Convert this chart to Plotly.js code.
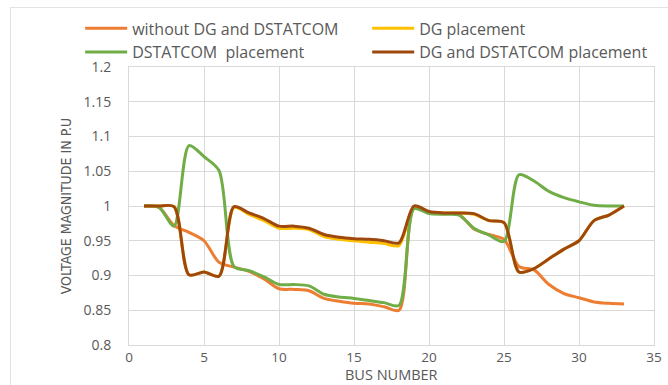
<!DOCTYPE html>
<html>
<head>
<meta charset="utf-8">
<script src="https://cdn.plot.ly/plotly-3.0.1.min.js"></script>
<style>
  html, body { margin: 0; padding: 0; background: #fff; }
  #chart { width: 668px; height: 385px; }
  #frame { position: absolute; left: 10px; top: 7px; width: 700px; height: 400px;
           border: 1px solid #e3e3e3; pointer-events: none; }
</style>
</head>
<body>
<div id="chart"></div>
<div id="frame"></div>
<script>
const busNumbers = [1,2,3,4,5,6,7,8,9,10,11,12,13,14,15,16,17,18,19,20,21,22,23,24,25,26,27,28,29,30,31,32,33];

const withoutDG = [1.000,0.998,0.972,0.962,0.950,0.919,0.912,0.906,0.895,0.881,0.880,0.878,0.867,0.863,0.860,0.859,0.855,0.850,
                   0.997,0.990,0.989,0.988,0.967,0.959,0.952,0.913,0.908,0.887,0.874,0.868,0.862,0.860,0.859];

const dgPlacement = [1.000,1.000,0.999,0.901,0.905,0.899,0.998,0.988,0.979,0.968,0.968,0.966,0.956,0.952,0.950,0.948,0.946,0.943,
                     0.999,0.991,0.990,0.990,0.988,0.979,0.976,0.905,0.910,0.924,0.938,0.950,0.979,0.987,1.000];

const dstatcomPlacement = [1.000,0.998,0.971,1.087,1.071,1.051,0.913,0.907,0.898,0.887,0.887,0.885,0.873,0.869,0.867,0.864,0.861,0.857,
                           0.996,0.989,0.988,0.987,0.968,0.958,0.949,1.045,1.036,1.021,1.012,1.006,1.001,1.000,1.000];

const dgDstatcomPlacement = [1.000,1.000,0.999,0.901,0.905,0.899,0.999,0.990,0.982,0.971,0.971,0.968,0.959,0.955,0.953,0.952,0.950,0.947,
                             1.000,0.992,0.990,0.990,0.989,0.979,0.976,0.905,0.910,0.924,0.938,0.950,0.979,0.987,1.000];

const seriesNames = ['without DG and DSTATCOM', 'DG placement', 'DSTATCOM  placement', 'DG and DSTATCOM placement'];
const seriesColors = ['#ED7D31', '#FFC000', '#70AD47', '#9E480E'];
const seriesValues = [withoutDG, dgPlacement, dstatcomPlacement, dgDstatcomPlacement];
const xAxisTitle = 'BUS NUMBER';
const yAxisTitle = 'VOLTAGE MAGNITUDE IN P.U';

const traces = seriesValues.map((vals, i) => ({
  x: busNumbers,
  y: vals,
  type: 'scatter',
  mode: 'lines',
  name: seriesNames[i],
  line: { color: seriesColors[i], width: 3, shape: 'spline', smoothing: 0.8 }
}));

const gray = '#595959';
const grid = '#d9d9d9';

const layout = {
  width: 668,
  height: 385,
  margin: { l: 129, r: 14, t: 65, b: 40 },
  paper_bgcolor: '#ffffff',
  plot_bgcolor: '#ffffff',
  font: { family: 'Open Sans, Noto Sans, sans-serif', size: 14, color: gray },
  showlegend: true,
  legend: {
    orientation: 'h',
    x: -0.093, xanchor: 'left',
    y: 1.2, yanchor: 'top',
    entrywidth: 230, entrywidthmode: 'pixels',
    itemwidth: 42,
    font: { family: 'Open Sans, Noto Sans, sans-serif', size: 16, color: gray },
    bgcolor: 'rgba(0,0,0,0)',
    traceorder: 'normal'
  },
  xaxis: {
    range: [0, 35],
    dtick: 5,
    tick0: 0,
    showgrid: true,
    gridcolor: grid,
    gridwidth: 1,
    zeroline: false,
    showline: true,
    linecolor: grid,
    linewidth: 1,
    mirror: true,
    ticks: '',
    ticklabelstandoff: 0,
    tickfont: { size: 13.5, color: gray }
  },
  yaxis: {
    range: [0.8, 1.2],
    dtick: 0.05,
    tick0: 0.8,
    showgrid: true,
    gridcolor: grid,
    gridwidth: 1,
    zeroline: false,
    showline: true,
    linecolor: grid,
    linewidth: 1,
    mirror: true,
    ticks: '',
    ticklabelstandoff: 14,
    tickfont: { size: 14, color: gray },
    title: { text: yAxisTitle,
             font: { family: 'Liberation Sans Narrow, DejaVu Sans Condensed, sans-serif', size: 14, color: gray },
             standoff: 8 }
  },
  annotations: [{
    text: xAxisTitle,
    xref: 'paper', yref: 'paper',
    x: 0.5, y: -0.1425,
    xanchor: 'center', yanchor: 'bottom',
    borderpad: 0,
    showarrow: false,
    font: { family: 'Open Sans, Noto Sans, sans-serif', size: 14.5, color: gray }
  }]
};

Plotly.newPlot('chart', traces, layout, { displayModeBar: false, staticPlot: true });
</script>
</body>
</html>
